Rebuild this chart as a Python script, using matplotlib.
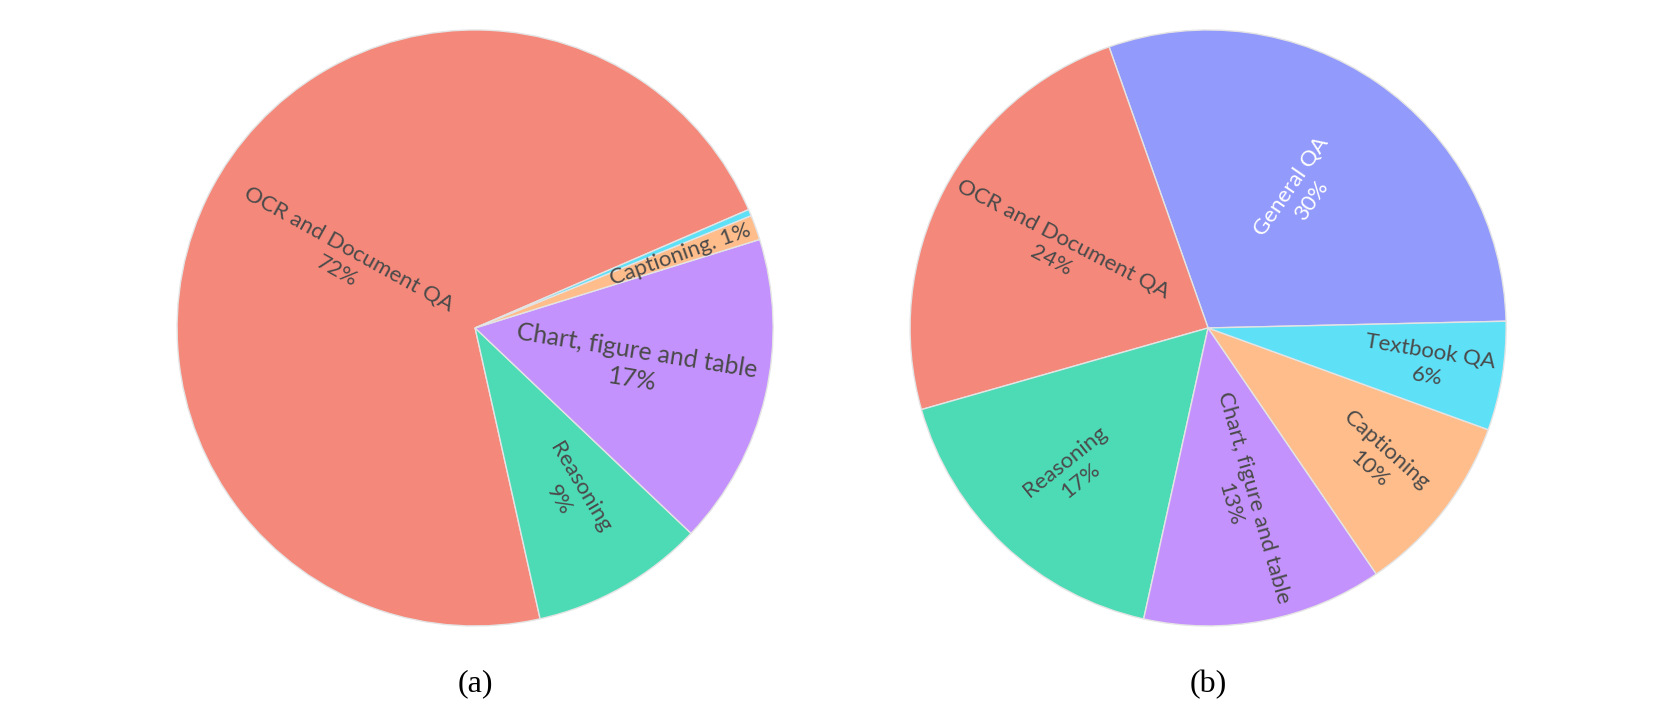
import matplotlib
matplotlib.use('Agg')
import matplotlib.pyplot as plt
import numpy as np

plt.rcParams['font.family'] = ['Lato', 'DejaVu Sans']

# data (percent of samples)
categories = ['General QA', 'OCR and Document QA', 'Reasoning',
              'Chart, figure and table', 'Captioning', 'Textbook QA']
values_a = [0.0, 72.0, 9.4, 16.9, 1.35, 0.35]
values_b = [30.0, 24.0, 17.1, 13.0, 9.9, 5.9]
panel_labels = ['(a)', '(b)']

colors = ['#929AFB', '#F4887A', '#4DDBB6', '#C492FC', '#FFBD8B', '#5EE0F7']
text_colors = ['white', '#4a4a4a', '#4a4a4a', '#4a4a4a', '#4a4a4a', '#4a4a4a']

# label placement: fraction of radius, size factor, small turn away from radial
label_r_a = [0.5, 0.50, 0.64, 0.55, 0.73, 0.5]
label_r_b = [0.55, 0.57, 0.66, 0.59, 0.72, 0.75]
label_scale_a = [1, 1, 1, 1.12, 1.0, 1]
label_scale_b = [1, 1, 1, 1.0, 1, 1]
label_turn_a = [0, -2, 1, 4, 0, 0]
label_turn_b = [0, 0, -8, 5, -4, 0]


def draw_pie(ax, values, start, label_r, label_scale, label_turn, title):
    wedges, _ = ax.pie(values, colors=colors, startangle=start, counterclock=True,
                       radius=1.0, wedgeprops=dict(edgecolor='#e4e4e4', linewidth=1.0))
    total = sum(values)
    for i, w in enumerate(wedges):
        pct = round(values[i] / total * 100)
        if pct < 1:
            continue
        if values[i] / total < 0.03:
            txt = f'{categories[i]}. {pct}%'
        else:
            txt = f'{categories[i]}\n{pct}%'
        mid = (w.theta1 + w.theta2) / 2
        r = label_r[i]
        x = r * np.cos(np.radians(mid))
        y = r * np.sin(np.radians(mid))
        rot = mid % 360
        if rot > 180:
            rot -= 360
        if rot > 90:
            rot -= 180
        elif rot < -90:
            rot += 180
        ax.text(x, y, txt, rotation=rot + label_turn[i], rotation_mode='anchor',
                ha='center', va='center', multialignment='center', color=text_colors[i],
                fontsize=16 * label_scale[i], linespacing=1.3)
    ax.set_xlim(-1, 1)
    ax.set_ylim(-1, 1)
    ax.set_aspect('equal')
    ax.text(0, -1.195, title, ha='center', va='center', fontsize=23,
            family='Liberation Serif', color='black')


fig = plt.figure(figsize=(16.8, 7.2), dpi=100)
ax1 = fig.add_axes([0.1054, 0.1306, 0.3548, 0.8278])
ax2 = fig.add_axes([0.5417, 0.1306, 0.3548, 0.8278])

draw_pie(ax1, values_a, 23.4, label_r_a, label_scale_a, label_turn_a, panel_labels[0])
draw_pie(ax2, values_b, 1.3, label_r_b, label_scale_b, label_turn_b, panel_labels[1])

fig.savefig('out.png', dpi=100)
